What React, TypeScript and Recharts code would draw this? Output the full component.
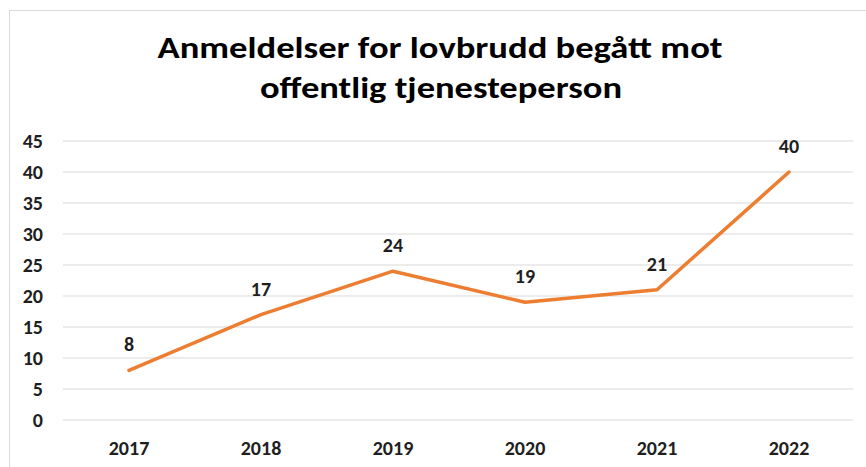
import React from "react";
import { LineChart, Line, XAxis, YAxis, CartesianGrid, LabelList } from "recharts";

const years = ["2017", "2018", "2019", "2020", "2021", "2022"];
const reports = [8, 17, 24, 19, 21, 40];
const yTicks = [0, 5, 10, 15, 20, 25, 30, 35, 40, 45];
const titleLines = ["Anmeldelser for lovbrudd begått mot", "offentlig tjenesteperson"];

const data = years.map((year, i) => ({ year, value: reports[i] }));

const FONT = "Carlito, 'Liberation Sans', Arial, sans-serif";
const TEXT = "#1f1f1f";

export default function App() {
  return (
    <div
      style={{
        position: "absolute",
        left: 0,
        top: 0,
        width: 866,
        height: 467,
        overflow: "hidden",
        background: "#ffffff",
      }}
    >
      <div
        style={{
          position: "absolute",
          left: 9,
          top: 10,
          width: 900,
          height: 500,
          border: "1px solid #d9d9d9",
          boxSizing: "border-box",
        }}
      />
      <svg
        width={866}
        height={120}
        style={{ position: "absolute", left: 0, top: 0 }}
      >
        <text
          x={440}
          y={58}
          textAnchor="middle"
          fontFamily={FONT}
          fontWeight="bold"
          fontSize={31}
          fill="#000"
          textLength={565}
          lengthAdjust="spacingAndGlyphs"
        >
          {titleLines[0]}
        </text>
        <text
          x={441}
          y={98}
          textAnchor="middle"
          fontFamily={FONT}
          fontWeight="bold"
          fontSize={31}
          fill="#000"
          textLength={362}
          lengthAdjust="spacingAndGlyphs"
        >
          {titleLines[1]}
        </text>
      </svg>
      <div style={{ position: "absolute", left: 0, top: 0 }}>
        <LineChart
          width={866}
          height={467}
          data={data}
          margin={{ top: 141, right: 13, bottom: 0, left: 23 }}
        >
          <CartesianGrid vertical={false} stroke="#d9d9d9" strokeWidth={1} />
          <XAxis
            dataKey="year"
            axisLine={false}
            tickLine={false}
            tickSize={0}
            tickMargin={21}
            height={47}
            padding={{ left: 66, right: 64 }}
            tick={{ fill: TEXT, fontSize: 20, fontWeight: "bold", fontFamily: FONT }}
            interval={0}
          />
          <YAxis
            width={40}
            domain={[0, 45]}
            ticks={yTicks}
            axisLine={false}
            tickLine={false}
            tickSize={0}
            tickMargin={20}
            interval={0}
            tick={{ fill: TEXT, fontSize: 20, fontWeight: "bold", fontFamily: FONT }}
          />
          <Line
            type="linear"
            dataKey="value"
            stroke="#ED7D31"
            strokeWidth={3.5}
            strokeLinecap="round"
            strokeLinejoin="round"
            dot={false}
            activeDot={false}
            isAnimationActive={false}
          >
            <LabelList
              dataKey="value"
              position="top"
              offset={19}
              fill={TEXT}
              fontSize={20}
              fontWeight="bold"
              fontFamily={FONT}
            />
          </Line>
        </LineChart>
      </div>
    </div>
  );
}
